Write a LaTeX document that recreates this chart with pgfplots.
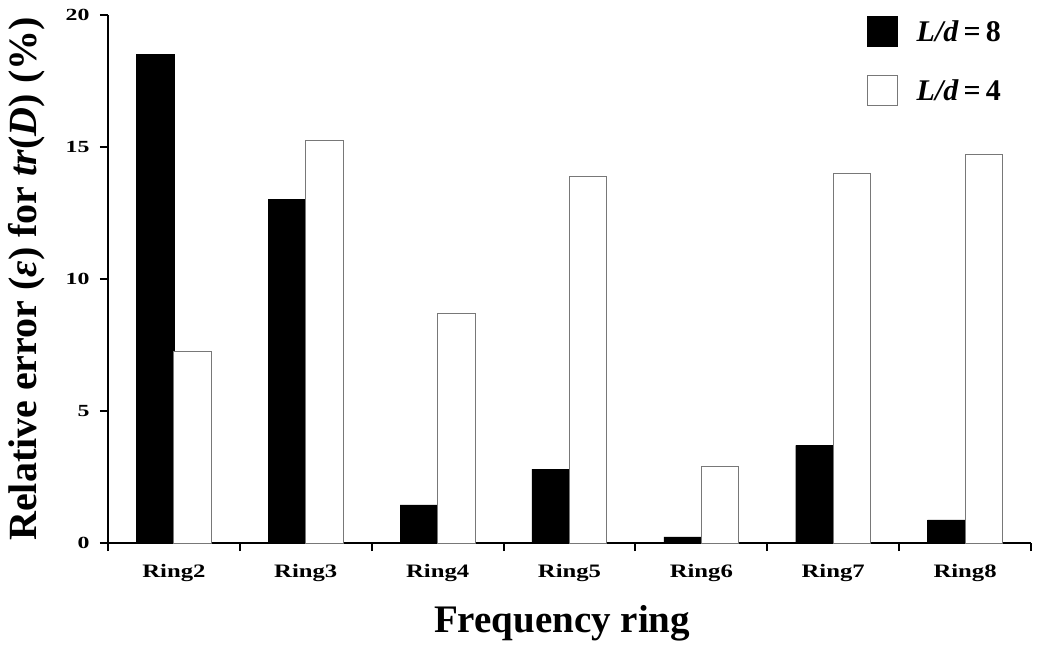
\documentclass[border=0pt]{standalone}
\usepackage{fontspec}
\setmainfont{Liberation Serif}
\newfontfamily\tickfont[FakeStretch=1.4]{Liberation Serif}
\newfontfamily\ringfont[FakeStretch=1.3]{Liberation Serif}
\usepackage{pgfplots}
\pgfplotsset{compat=1.18}
\definecolor{edgegray}{RGB}{120,120,120}
\begin{document}
\begin{tikzpicture}
\useasboundingbox (-108pt,-103pt) rectangle (942pt,15pt+528pt);
\begin{axis}[
  at={(0pt,0pt)}, anchor=south west,
  scale only axis, width=923pt, height=528pt,
  ybar=0pt, bar width=37.5pt,
  xmin=-0.5, xmax=6.5, ymin=0, ymax=20,
  axis lines*=left,
  axis line style={line width=2pt, black},
  every tick/.style={black, line width=2pt},
  tick align=outside, major tick length=8pt,
  xtick={-0.5,0.5,1.5,2.5,3.5,4.5,5.5,6.5}, xticklabels={},
  extra x ticks={0,1,2,3,4,5,6},
  extra x tick labels={Ring2,Ring3,Ring4,Ring5,Ring6,Ring7,Ring8},
  extra x tick style={major tick length=0pt,
    xticklabel style={font=\ringfont\bfseries\fontsize{19}{19}\selectfont, yshift=-18pt}},
  ytick={0,5,10,15,20},
  yticklabel style={font=\tickfont\bfseries\fontsize{17}{17}\selectfont, xshift=-7pt},
  /pgf/number format/assume math mode=true,
  xlabel={Frequency ring},
  xlabel style={at={(axis description cs:0.492,-0.118)}, anchor=north, inner sep=0pt,
    font=\bfseries\fontsize{39}{39}\selectfont},
  ylabel={Relative error (\textit{ε}) for \textit{tr}(\textit{D}) (\%)},
  ylabel style={at={(axis description cs:-0.0683,0.5)}, anchor=south, rotate=0, inner sep=0pt,
    font=\bfseries\fontsize{40}{40}\selectfont},
  legend style={at={(rel axis cs:0.8223,0.998)}, anchor=north west, draw=none, fill=none,
    inner sep=0pt, row sep=28pt,
    font=\bfseries\fontsize{30}{30}\selectfont},
  legend cell align=left,
  legend image code/.code={\path[draw=none, fill=none] (0pt,0pt) -- (47pt,0pt);
    \draw[#1, line width=1pt] (0pt,-15pt) rectangle (30pt,15pt);},
]
\addplot[fill=black, draw=black] coordinates {(0,18.52) (1,13.01) (2,1.44) (3,2.80) (4,0.23) (5,3.70) (6,0.88)};
\addlegendentry{\textit{L/d}\,=\,8}
\addplot[fill=white, draw=edgegray, line width=1pt] coordinates {(0,7.27) (1,15.24) (2,8.70) (3,13.88) (4,2.88) (5,13.99) (6,14.70)};
\addlegendentry{\textit{L/d}\,=\,4}
\end{axis}
\end{tikzpicture}
\end{document}
